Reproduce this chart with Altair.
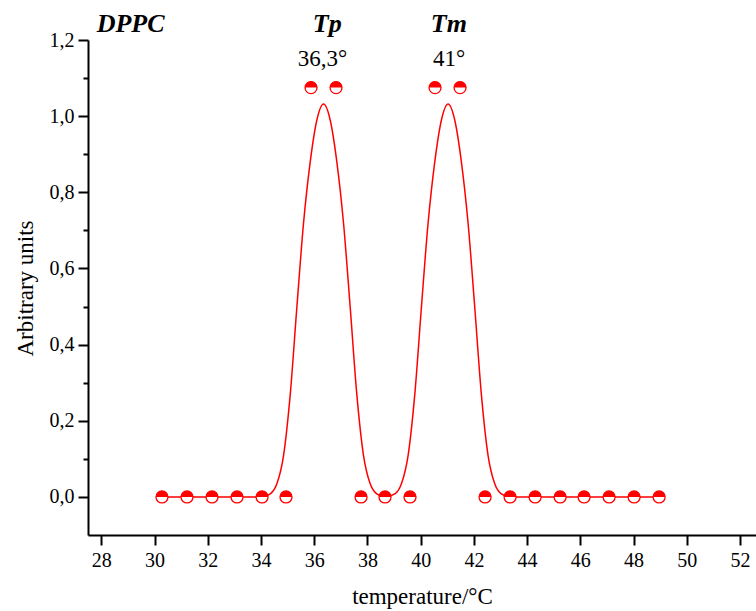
import altair as alt
import pandas as pd

# ---- data ----
marker_x = [30.28, 31.22, 32.16, 33.10, 34.04, 34.94, 35.88, 36.82, 37.76, 38.66, 39.60,
            40.54, 41.48, 42.42, 43.36, 44.30, 45.24, 46.14, 47.08, 48.02, 48.96]
marker_y = [0, 0, 0, 0, 0, 0, 1.075, 1.075, 0, 0, 0,
            1.075, 1.075, 0, 0, 0, 0, 0, 0, 0, 0]

curve_x = [30.28, 31.22, 32.16, 33.10, 34.04,
           34.35, 34.6, 34.85, 35.1, 35.35, 35.6, 35.85, 36.1, 36.35, 36.6, 36.85, 37.1, 37.35, 37.6, 37.85, 38.1, 38.35,
           38.66,
           39.03, 39.28, 39.53, 39.78, 40.03, 40.28, 40.53, 40.78, 41.03, 41.28, 41.53, 41.78, 42.03, 42.28, 42.53, 42.78, 43.03,
           43.36, 44.30, 45.24, 46.14, 47.08, 48.02, 48.96]
curve_y = [0, 0, 0, 0, 0,
           0.008, 0.035, 0.11, 0.27, 0.50, 0.72, 0.88, 0.99, 1.032, 0.99, 0.88, 0.72, 0.50, 0.27, 0.11, 0.035, 0.008,
           0,
           0.008, 0.035, 0.11, 0.27, 0.50, 0.72, 0.88, 0.99, 1.032, 0.99, 0.88, 0.72, 0.50, 0.27, 0.11, 0.035, 0.008,
           0, 0, 0, 0, 0, 0, 0]

x_ticks = list(range(28, 53))
y_ticks = [0.0, 0.1, 0.2, 0.3, 0.4, 0.5, 0.6, 0.7, 0.8, 0.9, 1.0, 1.1, 1.2]

title_texts = ["DPPC", "Tp", "Tm"]
title_x = [29.1, 36.49, 41.06]
title_y = [1.221, 1.221, 1.221]

value_texts = ["36,3°", "41°"]
value_x = [36.31, 41.07]
value_y = [1.132, 1.132]

X_DOMAIN = [27.5, 52.6]
Y_DOMAIN = [-0.1, 1.2]
FONT = "Liberation Serif"
RED = "#ff0000"

markers = pd.DataFrame({"x": marker_x, "y": marker_y})
curve = pd.DataFrame({"x": curve_x, "y": curve_y})
titles = pd.DataFrame({"x": title_x, "y": title_y, "t": title_texts})
values = pd.DataFrame({"x": value_x, "y": value_y, "t": value_texts})

x_axis = alt.Axis(
    values=x_ticks,
    labelExpr="datum.value % 2 === 0 ? datum.label : ''",
    tickSize={"condition": {"test": "datum.value % 2 === 0", "value": 10}, "value": 6},
    labelOverlap=False,
    labelFlush=False,
    labelPadding=5,
    title="temperature/°C",
    titleX=334,
    titleY=68,
    titleBaseline="alphabetic",
    titleAlign="center",
    grid=False,
)
y_axis = alt.Axis(
    values=y_ticks,
    labelExpr="round(datum.value*10) % 2 === 0 ? replace(format(datum.value, '.1f'), '.', ',') : ''",
    tickSize={"condition": {"test": "round(datum.value*10) % 2 === 0", "value": 10}, "value": 5},
    labelOverlap=False,
    labelFlush=False,
    labelPadding=4,
    title="Arbitrary units",
    titleX=-63,
    titleY=248,
    titleAngle=-90,
    titleAlign="center",
    titleBaseline="middle",
    grid=False,
)

xs = alt.Scale(domain=X_DOMAIN, nice=False, zero=False)
ys = alt.Scale(domain=Y_DOMAIN, nice=False, zero=False)

line = alt.Chart(curve).mark_line(color=RED, strokeWidth=1.5, interpolate="monotone").encode(
    x=alt.X("x:Q", scale=xs, axis=x_axis),
    y=alt.Y("y:Q", scale=ys, axis=y_axis),
)

circles = alt.Chart(markers).mark_point(
    shape="circle", filled=True, fill="white", stroke=RED, strokeWidth=1.3, size=144, opacity=1
).encode(x=alt.X("x:Q", scale=xs), y=alt.Y("y:Q", scale=ys))

halves = alt.Chart(markers).mark_point(
    shape="M -1 0 A 1 1 0 0 1 1 0 Z", filled=True, fill=RED, strokeWidth=0, size=144, opacity=1
).encode(x=alt.X("x:Q", scale=xs), y=alt.Y("y:Q", scale=ys))

title_txt = alt.Chart(titles).mark_text(
    font=FONT, fontSize=26, fontStyle="italic", fontWeight="bold", color="black",
    align="center", baseline="alphabetic"
).encode(x=alt.X("x:Q", scale=xs), y=alt.Y("y:Q", scale=ys), text="t:N")

value_txt = alt.Chart(values).mark_text(
    font=FONT, fontSize=23, color="black", align="center", baseline="alphabetic"
).encode(x=alt.X("x:Q", scale=xs), y=alt.Y("y:Q", scale=ys), text="t:N")

chart = alt.layer(line, circles, halves, title_txt, value_txt).properties(
    width=668,
    height=495,
    padding={"left": 88, "top": 40, "right": 0, "bottom": 76},
    autosize=alt.AutoSizeParams(type="none"),
    background="white",
).configure_view(stroke=None).configure_axis(
    domainColor="black",
    domainWidth=2,
    tickColor="black",
    tickWidth=2,
    labelFont=FONT,
    labelFontSize=20,
    labelColor="black",
    titleFont=FONT,
    titleFontSize=23,
    titleFontWeight="normal",
    titleColor="black",
)

chart.save("out.html", embed_options={"renderer": "svg", "actions": False})
